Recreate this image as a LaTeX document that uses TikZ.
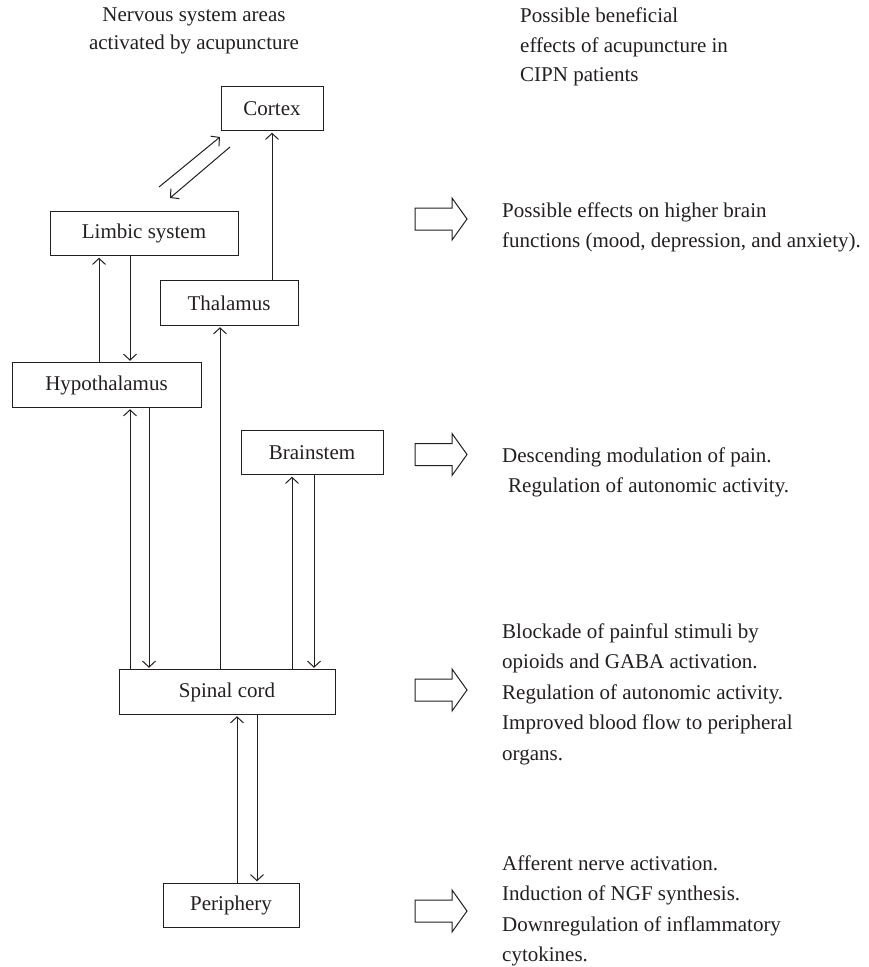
\documentclass[tikz,border=0pt]{standalone}
\usepackage{fontspec}
\setmainfont{Liberation Serif}
\usetikzlibrary{arrows.meta}
\definecolor{ink}{RGB}{35,31,32}
\begin{document}
\begin{tikzpicture}[x=1pt,y=-1pt,
  box/.style={draw=ink, line width=1pt, minimum height=44.5pt, inner sep=0pt,
    font=\fontsize{21}{24}\selectfont, text=ink},
  arr/.style={draw=ink, line width=1pt, -{Straight Barb[length=6pt,width=13pt]}, shorten >=1.5pt},
  lbl/.style={text=ink, align=left, inner sep=0pt, anchor=west},
  blockarr/.pic={\draw[ink, line width=1pt, line join=miter]
    (-26,-11) -- (11,-11) -- (11,-21) -- (26,0) -- (11,21) -- (11,11) -- (-26,11) -- cycle;}
]
\useasboundingbox (0,0) rectangle (868,967);

% titles
\node[text=ink, align=center, inner sep=0pt, font=\fontsize{21}{28}\selectfont] (ltitle) at (194,31)
  {Nervous system areas\\activated by acupuncture};
\node[lbl, font=\fontsize{21}{29.5}\selectfont] (rtitle) at (520,47)
  {Possible beneficial\\effects of acupuncture in\\CIPN patients};

% boxes
\node[box, minimum width=102pt] (cortex) at (272,108.5) {Cortex};
\node[box, minimum width=188pt] (limb) at (144,233.5) {Limbic system};
\node[box, minimum width=138pt] (thal) at (229,303) {Thalamus};
\node[box, minimum width=189pt] (hyp) at (106.5,385) {Hypothalamus};
\node[box, minimum width=142pt] (brain) at (312,452.5) {Brainstem};
\node[box, minimum width=216pt] (spinal) at (227,692) {Spinal cord};
\node[box, minimum width=136pt] (peri) at (231,905.5) {Periphery};

% limbic <-> cortex diagonals
\coordinate (d1s) at (159,187);
\coordinate (d1e) at (220,137);
\coordinate (d2s) at (230,147);
\coordinate (d2e) at (170,198);
\draw[arr, shorten >=0pt] (d1s) -- (d1e);
\draw[arr, shorten >=0pt] (d2s) -- (d2e);

% thalamus -> cortex
\draw[arr] (thal.north -| cortex.south) -- (cortex.south);

% hypothalamus <-> limbic
\draw[arr] ([xshift=-7.5pt]hyp.north) -- ([xshift=-7.5pt]hyp.north |- limb.south);
\draw[arr] ([xshift=23.5pt]hyp.north |- limb.south) -- ([xshift=23.5pt]hyp.north);

% spinal <-> hypothalamus
\draw[arr] ([xshift=23.5pt]hyp.south |- spinal.north) -- ([xshift=23.5pt]hyp.south);
\draw[arr] ([xshift=42.5pt]hyp.south) -- ([xshift=42.5pt]hyp.south |- spinal.north);

% spinal -> thalamus
\draw[arr] ([xshift=-9pt]thal.south |- spinal.north) -- ([xshift=-9pt]thal.south);

% spinal <-> brainstem
\draw[arr] ([xshift=-20pt]brain.south |- spinal.north) -- ([xshift=-20pt]brain.south);
\draw[arr] ([xshift=2pt]brain.south) -- ([xshift=2pt]brain.south |- spinal.north);

% periphery <-> spinal
\draw[arr] ([xshift=6pt]peri.north) -- ([xshift=6pt]peri.north |- spinal.south);
\draw[arr] ([xshift=26pt]peri.north |- spinal.south) -- ([xshift=26pt]peri.north);

% block arrows
\pic (ba1) at (441,219) {blockarr};
\pic (ba2) at (441,454.5) {blockarr};
\pic (ba3) at (441,690) {blockarr};
\pic (ba4) at (441,911) {blockarr};

% effect texts
\node[lbl, font=\fontsize{21}{30}\selectfont] (t1) at (502,227)
  {Possible effects on higher brain\\functions (mood, depression, and anxiety).};
\node[lbl, font=\fontsize{21}{30}\selectfont] (t2) at (502,472)
  {Descending modulation of pain.\\\hspace*{6pt}Regulation of autonomic activity.};
\node[lbl, font=\fontsize{21}{30.5}\selectfont] (t3) at (502,694)
  {Blockade of painful stimuli by\\opioids and GABA activation.\\Regulation of autonomic activity.\\Improved blood flow to peripheral\\organs.};
\node[lbl, font=\fontsize{21}{30.5}\selectfont] (t4) at (502,911)
  {Afferent nerve activation.\\Induction of NGF synthesis.\\Downregulation of inflammatory\\cytokines.};
\end{tikzpicture}
\end{document}
